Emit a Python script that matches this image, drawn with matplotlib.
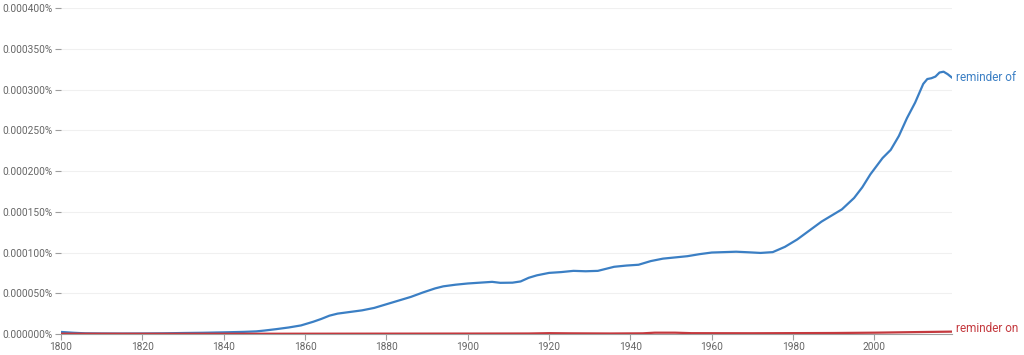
import matplotlib.pyplot as plt
from matplotlib.ticker import FuncFormatter

# reminder of
years_of = [1800, 1803, 1806, 1810, 1815, 1820, 1825, 1830, 1835, 1840, 1845, 1848,
            1850, 1853, 1856, 1859, 1862, 1864, 1866, 1868, 1871, 1874, 1877, 1880,
            1883, 1886, 1889, 1892, 1894, 1897, 1900, 1903, 1906, 1908, 1911, 1913,
            1915, 1917, 1920, 1923, 1926, 1929, 1932, 1934, 1936, 1939, 1942, 1945,
            1948, 1951, 1954, 1957, 1960, 1963, 1966, 1969, 1972, 1975, 1978, 1981,
            1984, 1987, 1990, 1992, 1995, 1997, 1999, 2002, 2004, 2006, 2008, 2010,
            2012, 2013, 2014, 2015, 2016, 2017, 2018, 2019]
values_of = [2.5, 1.5, 0.8, 0.6, 0.5, 0.6, 0.8, 1.2, 1.5, 2.0, 2.6, 3.2,
             4.2, 6.0, 8.0, 10.5, 15.0, 18.5, 22.5, 25.0, 27.0, 29.0, 32.0, 36.5,
             41.0, 45.5, 51.0, 56.0, 58.5, 60.5, 62.0, 63.0, 64.0, 62.8, 63.0, 64.5,
             69.0, 72.0, 75.0, 76.0, 77.5, 77.0, 77.5, 80.0, 82.5, 84.0, 85.0, 89.5,
             92.5, 94.0, 95.5, 98.0, 100.0, 100.5, 101.0, 100.3, 99.5, 100.5, 107.0, 116.0,
             127.0, 138.0, 147.0, 153.0, 167.0, 180.0, 196.0, 216.0, 226.0, 243.0, 265.0, 284.0,
             307.0, 313.0, 314.0, 316.0, 321.0, 322.0, 319.0, 315.0]

# reminder on
years_on = [1800, 1820, 1850, 1900, 1915, 1920, 1925, 1935, 1943, 1946, 1951, 1955,
            1970, 1990, 2000, 2010, 2019]
values_on = [0.4, 0.3, 0.3, 0.5, 0.6, 1.0, 0.8, 0.6, 0.8, 1.6, 1.6, 1.0,
             0.9, 1.2, 1.6, 2.3, 2.9]

# values above are in units of 1e-6 percent
scale = 1e-6
labels = ['reminder of', 'reminder on']
colors = ['#3b7fc4', '#c4393e']

plt.rcParams['font.family'] = ['Roboto', 'DejaVu Sans']

fig = plt.figure(figsize=(10.24, 3.55), dpi=100)
ax = fig.add_axes([0.0596, 0.0592, 0.8698, 0.9178])

ax.plot(years_of, [v * scale for v in values_of], color=colors[0], lw=1.6, zorder=3)
ax.plot(years_on, [v * scale for v in values_on], color=colors[1], lw=1.6, zorder=3)

ax.set_xlim(1800, 2019)
ax.set_ylim(0, 0.0004)
ax.set_xticks(range(1800, 2001, 20))
ax.set_yticks([i * 0.00005 for i in range(9)])
ax.yaxis.set_major_formatter(FuncFormatter(lambda v, p: '%.6f%%' % v))

ax.grid(axis='y', color='#f0f0f0', lw=0.8)
ax.set_axisbelow(True)
for side in ['top', 'right', 'left']:
    ax.spines[side].set_visible(False)
ax.spines['bottom'].set_color('#9e9e9e')
ax.tick_params(axis='both', colors='#9e9e9e', labelcolor='#666666', labelsize=7.3, length=4, width=0.8)
ax.tick_params(axis='y', pad=2)
ax.tick_params(axis='x', pad=2)

# end labels
ax.annotate(labels[0], xy=(years_of[-1], values_of[-1] * scale), xytext=(3, 0),
            textcoords='offset points', va='center', ha='left', color=colors[0], fontsize=8.5,
            annotation_clip=False)
ax.annotate(labels[1], xy=(years_on[-1], values_on[-1] * scale), xytext=(3, 2),
            textcoords='offset points', va='center', ha='left', color=colors[1], fontsize=8.5,
            annotation_clip=False)

fig.savefig('out.png', dpi=100)
